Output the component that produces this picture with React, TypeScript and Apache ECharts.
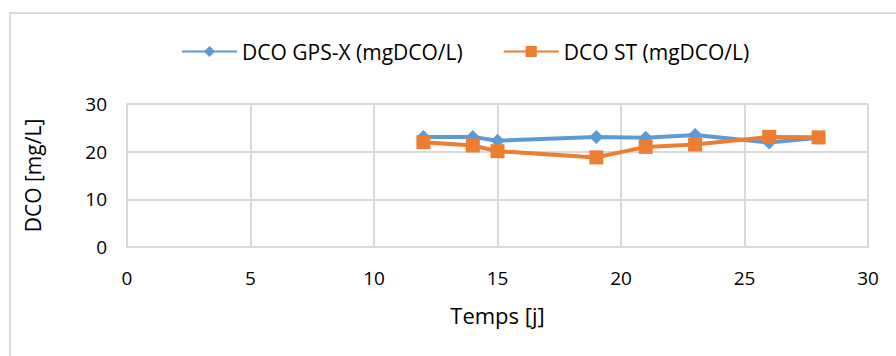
import React, { useEffect, useRef } from "react";
import * as echarts from "echarts";

const days = [12, 14, 15, 19, 21, 23, 26, 28];
const gpsValues = [23.1, 23.1, 22.3, 23.1, 22.9, 23.5, 21.9, 22.9];
const stValues = [22.0, 21.3, 20.1, 18.8, 21.0, 21.5, 23.1, 23.0];
const seriesNames = ["DCO GPS-X (mgDCO/L)", "DCO ST (mgDCO/L)"];
const xTitle = "Temps [j]";
const yTitle = "DCO [mg/L]";

const FONT = "'Open Sans', 'Noto Sans', sans-serif";

export default function App() {
  const ref = useRef<HTMLDivElement>(null);
  useEffect(() => {
    if (!ref.current) return;
    const chart = echarts.init(ref.current, undefined, { renderer: "svg" });
    const gridColor = "#d9d9d9";
    chart.setOption({
      animation: false,
      backgroundColor: "#ffffff",
      textStyle: { fontFamily: FONT, color: "#000" },
      graphic: [
        {
          type: "rect",
          shape: { x: 10, y: 13, width: 900, height: 360 },
          style: { fill: "none", stroke: "#d9d9d9", lineWidth: 2 },
          silent: true,
        },
      ],
      legend: {
        top: 41,
        left: 181,
        padding: 0,
        itemWidth: 55,
        itemHeight: 14,
        itemGap: 40,
        textStyle: { fontFamily: FONT, fontSize: 21, color: "#000", padding: [0, 0, 0, 0] },
        data: seriesNames,
      },
      grid: { left: 127, right: 28, top: 104, bottom: 109, containLabel: false },
      xAxis: {
        type: "value",
        min: 0,
        max: 30,
        interval: 5,
        name: xTitle,
        nameLocation: "middle",
        nameGap: 57,
        nameTextStyle: { fontFamily: FONT, fontSize: 22, color: "#000" },
        axisLine: { show: true, lineStyle: { color: gridColor, width: 2 } },
        axisTick: { show: false },
        axisLabel: { fontFamily: FONT, fontSize: 19, color: "#000", margin: 21 },
        splitLine: { show: true, lineStyle: { color: gridColor, width: 2 } },
      },
      yAxis: {
        type: "value",
        min: 0,
        max: 30,
        interval: 10,
        name: yTitle,
        nameLocation: "middle",
        nameGap: 84,
        nameTextStyle: { fontFamily: FONT, fontSize: 21, color: "#000" },
        axisLine: { show: true, lineStyle: { color: gridColor, width: 2 } },
        axisTick: { show: false },
        axisLabel: { fontFamily: FONT, fontSize: 19, color: "#000", margin: 20 },
        splitLine: { show: true, lineStyle: { color: gridColor, width: 2 } },
      },
      series: [
        {
          name: seriesNames[0],
          type: "line",
          data: days.map((d, i) => [d, gpsValues[i]]),
          symbol: "diamond",
          symbolSize: 14,
          lineStyle: { color: "#5B9BD5", width: 4 },
          itemStyle: { color: "#5B9BD5" },
        },
        {
          name: seriesNames[1],
          type: "line",
          data: days.map((d, i) => [d, stValues[i]]),
          symbol: "rect",
          symbolSize: 14,
          lineStyle: { color: "#ED7D31", width: 4 },
          itemStyle: { color: "#ED7D31" },
        },
      ],
    });
    return () => chart.dispose();
  }, []);
  return (
    <div
      ref={ref}
      style={{ position: "absolute", left: 0, top: 0, width: 896, height: 356 }}
    />
  );
}
